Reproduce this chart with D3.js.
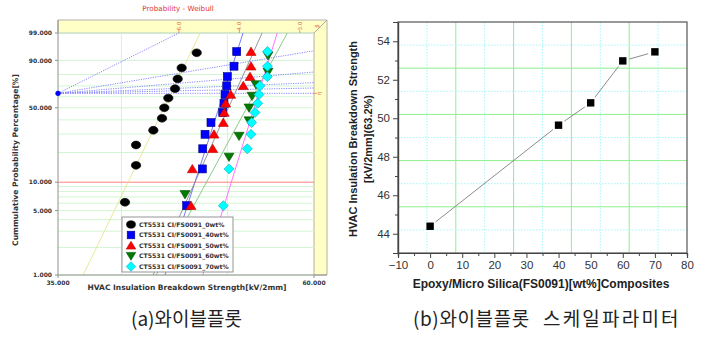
<!DOCTYPE html>
<html><head><meta charset="utf-8">
<script src="https://cdn.jsdelivr.net/npm/d3@7"></script>
<style>body{margin:0;background:#fff;} svg{display:block;}</style>
</head><body><svg id="c" width="724" height="337"></svg>
<script>
// ---------------- DATA ----------------
const seriesNames = ["CT5531 CI/FS0091_0wt%", "CT5531 CI/FS0091_40wt%", "CT5531 CI/FS0091_50wt%", "CT5531 CI/FS0091_60wt%", "CT5531 CI/FS0091_70wt%"];
const s0wt  = [40.30, 41.25, 41.25, 42.78, 43.57, 43.78, 44.15, 44.78, 45.03, 45.41, 46.87];
const s40wt = [45.89, 47.43, 47.47, 47.70, 48.30, 49.51, 49.64, 49.75, 49.93, 49.99, 50.70, 50.99];
const s50wt = [46.31, 46.44, 48.48, 48.61, 49.57, 49.67, 49.82, 50.35, 51.70, 52.44, 52.55, 52.55];
const s60wt = [45.73, 50.17, 51.24, 52.33, 52.33, 52.66, 53.10, 54.46, 54.46];
const s70wt = [49.57, 50.17, 52.14, 52.55, 52.62, 52.99, 53.29, 53.44, 53.55, 54.38, 54.40, 54.40];
const weibullEta  = [44.4, 49.6, 50.8, 52.95, 53.4];   // scale parameter (63.2%)
const weibullBeta = [24.9, 37.3, 26.7, 22.2, 39.1];    // shape parameter
const probTicks = [99, 90, 50, 10, 5, 1];
const probGrid = [1, 2, 3, 4, 5, 6, 7, 8, 9, 20, 30, 40, 50, 60, 70, 80, 90, 99];
const strengthTicks = [35, 60];
const strengthGrid = [40, 50];
const betaScaleTicks = [6, 4, 3];
const betaGuides = [6, 2, 1, 0.5, 0.25, 0];

const fillerWt = [0, 40, 50, 60, 70];
const scaleParam = [44.39, 49.64, 50.80, 52.98, 53.45];
const xTicksB = [-10, 0, 10, 20, 30, 40, 50, 60, 70, 80];
const yTicksB = [44, 46, 48, 50, 52, 54];

const captionA = "(a)와이블플롯";
const captionB = ["(b)와이블플롯", "스케일파라미터"];

// ---------------- LEFT: WEIBULL PLOT ----------------
const svg = d3.select("#c");
const F = p => Math.log(-Math.log(1 - p));
const L = {x0: 58, x1: 314, y0: 33, y1: 275, band: 13};
const xA = d3.scaleLog().domain([35, 60]).range([L.x0, L.x1]);
const yA = d3.scaleLinear().domain([F(0.01), F(0.99)]).range([L.y1, L.y0]);
const gA = svg.append("g");
const dv = "DejaVu Sans, Verdana, sans-serif";

gA.append("text").attr("x", 178).attr("y", 11).attr("text-anchor", "middle")
  .attr("font-family", dv).attr("font-size", 7.2)
  .attr("fill", "#e03535").text("Probability - Weibull");

gA.append("defs").append("clipPath").attr("id", "clipA").append("rect")
  .attr("x", L.x0).attr("y", L.y0).attr("width", L.x1 - L.x0).attr("height", L.y1 - L.y0);

// yellow frame bands
gA.append("polygon").attr("points", [[L.x0, L.y0 - L.band], [L.x1 + L.band, L.y0 - L.band], [L.x1, L.y0], [L.x0, L.y0]].join(" "))
  .attr("fill", "#ffffc6").attr("stroke", "#a0a0a0").attr("stroke-width", 0.8);
gA.append("polygon").attr("points", [[L.x1, L.y0], [L.x1 + L.band, L.y0 - L.band], [L.x1 + L.band, L.y1], [L.x1, L.y1]].join(" "))
  .attr("fill", "#ffffc6").attr("stroke", "#a0a0a0").attr("stroke-width", 0.8);

// grid
gA.selectAll(".hg").data(probGrid).join("line")
  .attr("x1", L.x0).attr("x2", L.x1)
  .attr("y1", d => yA(F(d / 100))).attr("y2", d => yA(F(d / 100)))
  .attr("stroke", "#d2f5d2").attr("stroke-width", 1);
gA.selectAll(".vg").data(strengthGrid).join("line")
  .attr("x1", d => xA(d)).attr("x2", d => xA(d)).attr("y1", L.y0).attr("y2", L.y1)
  .attr("stroke", "#d2f5d2").attr("stroke-width", 1);
gA.append("line").attr("x1", L.x0).attr("x2", L.x1)
  .attr("y1", yA(F(0.10))).attr("y2", yA(F(0.10))).attr("stroke", "#ff8080").attr("stroke-width", 1);

// shape estimation guides from the 63.2% point
const est = {x: xA(35), y: yA(0)};
const lnSpan = Math.log(60 / 35);
const guidesG = gA.append("g").attr("clip-path", "url(#clipA)");
betaGuides.forEach(b => {
  let xe = 60, fe = b * lnSpan;
  if (fe > F(0.99)) { fe = F(0.99); xe = 35 * Math.exp(fe / b); }
  guidesG.append("line").attr("x1", est.x).attr("y1", est.y).attr("x2", xA(xe)).attr("y2", yA(fe))
    .attr("stroke", "#7b7bff").attr("stroke-width", 0.9).attr("stroke-dasharray", "1.2,1.2");
});
// beta scale ticks on top band
betaScaleTicks.forEach(b => {
  const xe = xA(35 * Math.exp(F(0.99) / b));
  gA.append("line").attr("x1", xe).attr("x2", xe).attr("y1", L.y0 - 3).attr("y2", L.y0).attr("stroke", "#e07050").attr("stroke-width", 0.7);
  gA.append("text").attr("transform", `translate(${xe + 2},${L.y0 - 7}) rotate(-90)`)
    .attr("text-anchor", "middle").attr("font-family", dv).attr("font-size", 5.5)
    .attr("fill", "#e07050").text(d3.format(".1f")(b));
});
gA.append("text").attr("transform", `translate(${L.x1 + 5},${L.y0 - 7}) rotate(-90)`)
  .attr("text-anchor", "middle").attr("font-family", dv).attr("font-size", 5.5)
  .attr("fill", "#e07050").text("β");
gA.append("line").attr("x1", L.x1).attr("x2", L.x1 + 3).attr("y1", est.y).attr("y2", est.y).attr("stroke", "#e07050").attr("stroke-width", 0.7);
gA.append("text").attr("transform", `translate(${L.x1 + 7},${est.y}) rotate(-90)`)
  .attr("text-anchor", "middle").attr("font-family", dv).attr("font-size", 5.5)
  .attr("fill", "#e07050").text("η");

// fitted lines
const fitColors = ["#e6e48c", "#6a6aff", "#8a8a8a", "#7ec47e", "#ff66ff"];
const fitsG = gA.append("g").attr("clip-path", "url(#clipA)");
weibullEta.forEach((eta, k) => {
  const b = weibullBeta[k];
  const pts = [0.01, 0.99].map(p => [xA(eta * Math.pow(-Math.log(1 - p), 1 / b)), yA(F(p))]);
  fitsG.append("line").attr("x1", pts[0][0]).attr("y1", pts[0][1]).attr("x2", pts[1][0]).attr("y2", pts[1][1])
    .attr("stroke", fitColors[k]).attr("stroke-width", 0.9);
});

// axes frame
gA.append("line").attr("x1", L.x0).attr("x2", L.x0).attr("y1", L.y0 - L.band).attr("y2", L.y1).attr("stroke", "#909090");
gA.append("line").attr("x1", L.x0).attr("x2", L.x1 + L.band).attr("y1", L.y1).attr("y2", L.y1).attr("stroke", "#909090");
gA.append("circle").attr("cx", est.x).attr("cy", est.y).attr("r", 2.6).attr("fill", "#0000ff");

// tick labels
probTicks.forEach(p => {
  const y = yA(F(p / 100));
  gA.append("line").attr("x1", L.x0 - 3).attr("x2", L.x0).attr("y1", y).attr("y2", y).attr("stroke", "#909090");
  gA.append("text").attr("x", L.x0 - 6).attr("y", y + 2.3).attr("text-anchor", "end")
    .attr("font-family", dv).attr("font-weight", "bold").attr("font-size", 6).attr("fill", "#333")
    .text(d3.format(".3f")(p));
});
strengthTicks.forEach(v => {
  gA.append("line").attr("x1", xA(v)).attr("x2", xA(v)).attr("y1", L.y1).attr("y2", L.y1 + 3).attr("stroke", "#909090");
  gA.append("text").attr("x", xA(v)).attr("y", L.y1 + 9.5).attr("text-anchor", "middle")
    .attr("font-family", dv).attr("font-weight", "bold").attr("font-size", 6).attr("fill", "#333")
    .text(d3.format(".3f")(v));
});
gA.append("text").attr("x", 187).attr("y", 290).attr("text-anchor", "middle")
  .attr("font-family", dv).attr("font-weight", "bold").attr("font-size", 7.5).attr("fill", "#333")
  .text("HVAC Insulation Breakdown Strength[kV/2mm]");
gA.append("text").attr("transform", "translate(18,160) rotate(-90)").attr("text-anchor", "middle")
  .attr("font-family", dv).attr("font-weight", "bold").attr("font-size", 7.6).attr("fill", "#333")
  .text("Cummulative Probability Percentage[%]");

// markers
const markerStyle = [
  {type: "circle", fill: "#000000", stroke: "#000000"},
  {type: "square", fill: "#0000ff", stroke: "#00008a"},
  {type: "up", fill: "#ff0000", stroke: "#c00000"},
  {type: "down", fill: "#007a00", stroke: "#005000"},
  {type: "diamond", fill: "#00ffff", stroke: "#00a8c8"}
];
function marker(g, st, x, y, s) {
  s = s || 1;
  let el;
  if (st.type === "circle") el = g.append("ellipse").attr("cx", x).attr("cy", y).attr("rx", 4.7 * s).attr("ry", 3.9 * s);
  else if (st.type === "square") el = g.append("rect").attr("x", x - 4 * s).attr("y", y - 4 * s).attr("width", 8 * s).attr("height", 8 * s);
  else if (st.type === "up") el = g.append("path").attr("d", `M${x},${y - 4.5 * s}L${x + 5 * s},${y + 3.8 * s}L${x - 5 * s},${y + 3.8 * s}Z`);
  else if (st.type === "down") el = g.append("path").attr("d", `M${x},${y + 4.5 * s}L${x + 5 * s},${y - 3.8 * s}L${x - 5 * s},${y - 3.8 * s}Z`);
  else el = g.append("path").attr("d", `M${x},${y - 5 * s}L${x + 5 * s},${y}L${x},${y + 5 * s}L${x - 5 * s},${y}Z`);
  el.attr("fill", st.fill).attr("stroke", st.stroke).attr("stroke-width", 0.6);
}
const allSeries = [s0wt, s40wt, s50wt, s60wt, s70wt];
const ptsG = gA.append("g");
allSeries.forEach((arr, k) => {
  const n = arr.length;
  arr.forEach((v, i) => {
    const p = (i + 1 - 0.3) / (n + 0.4);
    marker(ptsG, markerStyle[k], xA(v), yA(F(p)));
  });
});

// legend
const lg = gA.append("g");
lg.append("rect").attr("x", 122).attr("y", 217).attr("width", 111).attr("height", 55)
  .attr("fill", "#fff").attr("stroke", "#8a8a8a").attr("stroke-width", 0.9);
seriesNames.forEach((name, k) => {
  const y = 224.5 + k * 10.5;
  marker(lg, markerStyle[k], 131, y, 0.95);
  lg.append("text").attr("x", 139).attr("y", y + 2.3).attr("font-family", dv).attr("font-weight", "bold")
    .attr("font-size", 6.2).attr("fill", "#333").text(name);
});

// ---------------- RIGHT: SCALE PARAMETER ----------------
const R = {x0: 398, x1: 687, y0: 22, y1: 253};
const xB = d3.scaleLinear().domain([-10, 80]).range([R.x0, R.x1]);
const yB = d3.scaleLinear().domain([43, 55]).range([R.y1, R.y0]);
const gB = svg.append("g");
const lib = "Liberation Sans, Arial, sans-serif";

const nDiv = 10;
const xGridVals = d3.range(1, nDiv).map(i => -10 + i * 90 / nDiv);
const yGridVals = d3.range(1, nDiv).map(i => 55 - i * 12 / nDiv);
xGridVals.forEach((v, i) => {
  gB.append("line").attr("x1", xB(v)).attr("x2", xB(v)).attr("y1", R.y0).attr("y2", R.y1)
    .attr("stroke", i % 2 ? "#8ef08e" : "#a8f4f8").attr("stroke-width", 1)
    .attr("stroke-dasharray", i % 2 ? null : "1.5,1.5");
});
yGridVals.forEach((v, i) => {
  gB.append("line").attr("x1", R.x0).attr("x2", R.x1).attr("y1", yB(v)).attr("y2", yB(v))
    .attr("stroke", i % 2 ? "#8ef08e" : "#a8f4f8").attr("stroke-width", 1)
    .attr("stroke-dasharray", i % 2 ? null : "1.5,1.5");
});

gB.append("rect").attr("x", R.x0).attr("y", R.y0).attr("width", R.x1 - R.x0).attr("height", R.y1 - R.y0)
  .attr("fill", "none").attr("stroke", "#555").attr("stroke-width", 1.2);

const axX = d3.axisBottom(xB).tickValues(xTicksB).tickSize(5).tickPadding(3).tickFormat(d3.format("d"));
const axXm = d3.axisBottom(xB).tickValues(d3.range(-5, 80, 10)).tickSize(3).tickFormat("");
const axY = d3.axisLeft(yB).tickValues(yTicksB).tickSize(5).tickPadding(3).tickFormat(d3.format("d"));
const axYm = d3.axisLeft(yB).tickValues(d3.range(43, 56, 2)).tickSize(3).tickFormat("");
[[axX, `translate(0,${R.y1})`], [axXm, `translate(0,${R.y1})`], [axY, `translate(${R.x0},0)`], [axYm, `translate(${R.x0},0)`]]
  .forEach(([ax, tr]) => {
    const g = gB.append("g").attr("transform", tr).call(ax);
    g.select(".domain").attr("stroke", "#444").attr("stroke-width", 1.2);
    g.selectAll(".tick line").attr("stroke", "#444").attr("stroke-width", 1);
    g.selectAll("text").attr("font-family", lib).attr("font-size", 11.5).attr("fill", "#333");
  });

// connecting line with gaps at markers
const ptsB = fillerWt.map((w, i) => [xB(w), yB(scaleParam[i])]);
for (let i = 0; i < ptsB.length - 1; i++) {
  const [ax, ay] = ptsB[i], [bx, by] = ptsB[i + 1];
  const len = Math.hypot(bx - ax, by - ay), ux = (bx - ax) / len, uy = (by - ay) / len, gap = 7;
  gB.append("line").attr("x1", ax + ux * gap).attr("y1", ay + uy * gap).attr("x2", bx - ux * gap).attr("y2", by - uy * gap)
    .attr("stroke", "#8c8c8c").attr("stroke-width", 1);
}
gB.selectAll(".sq").data(ptsB).join("rect")
  .attr("x", d => d[0] - 3.7).attr("y", d => d[1] - 3.7).attr("width", 7.4).attr("height", 7.4).attr("fill", "#000");

gB.append("text").attr("x", 541).attr("y", 288).attr("text-anchor", "middle")
  .attr("font-family", lib).attr("font-weight", "bold").attr("font-size", 12).attr("fill", "#222")
  .text("Epoxy/Micro Silica(FS0091)[wt%]Composites");
gB.append("text").attr("transform", "translate(357,139) rotate(-90)").attr("text-anchor", "middle")
  .attr("font-family", lib).attr("font-weight", "bold").attr("font-size", 11).attr("fill", "#222")
  .text("HVAC Insulation Breakdown Strength");
gB.append("text").attr("transform", "translate(372,139) rotate(-90)").attr("text-anchor", "middle")
  .attr("font-family", lib).attr("font-weight", "bold").attr("font-size", 11).attr("fill", "#222")
  .text("[kV/2mm](63.2%)");

// captions
const cjk = "Noto Sans CJK KR, sans-serif";
svg.append("text").attr("x", 131).attr("y", 326).attr("font-family", cjk)
  .attr("font-size", 19).attr("fill", "#222").text(captionA);
const tb = svg.append("text").attr("y", 326).attr("font-family", cjk).attr("font-size", 19).attr("fill", "#222");
tb.append("tspan").attr("x", 413).attr("letter-spacing", 0.6).text(captionB[0]);
tb.append("tspan").attr("x", 543).attr("letter-spacing", 2.2).text(captionB[1]);
</script></body></html>
